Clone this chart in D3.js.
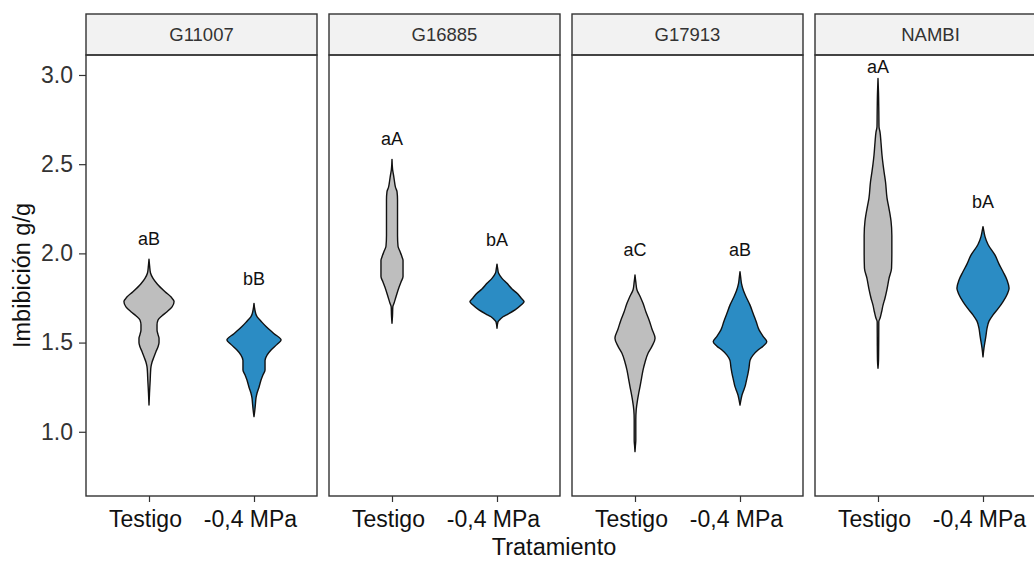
<!DOCTYPE html>
<html>
<head>
<meta charset="utf-8">
<script src="https://cdn.jsdelivr.net/npm/d3@7"></script>
<style>
body { margin: 0; background: #fff; }
text { font-family: "Liberation Sans", Arial, sans-serif; }
</style>
</head>
<body>
<script>
var genotypes = ["G11007", "G16885", "G17913", "NAMBI"];
var treatments = ["Testigo", "-0,4 MPa"];
var yTicks = [1.0, 1.5, 2.0, 2.5, 3.0];
var fills = ["#bebebe", "#2b8cc4"];

// letters per genotype [Testigo, -0,4 MPa] and the height they sit at
var letters = [["aB", "bB"], ["aA", "bA"], ["aC", "aB"], ["aA", "bA"]];
var letterY = [[2.085, 1.86], [2.645, 2.075], [2.02, 2.02], [3.047, 2.29]];

// violin profiles: [imbibicion g/g, relative density]
var g11007Testigo = [[1.967,0],[1.93,0.6],[1.89,1.5],[1.86,4],[1.83,8],[1.785,16],[1.755,22],[1.73,25],[1.70,23],
  [1.673,18],[1.65,13],[1.627,9],[1.60,8],[1.571,8],[1.545,9],[1.524,10],[1.50,10],[1.477,9],[1.45,7],[1.42,5],
  [1.39,3],[1.365,2],[1.33,1.5],[1.29,1.2],[1.25,0.8],[1.216,0.5],[1.15,0]];
var g11007Mpa = [[1.72,0],[1.68,1],[1.645,3],[1.62,7],[1.59,12],[1.55,20],[1.515,27],[1.49,23],[1.458,17],[1.43,13],
  [1.40,11],[1.37,11],[1.346,11],[1.32,9],[1.29,7],[1.25,5],[1.216,3],[1.19,2],[1.16,1.5],[1.12,0.8],[1.085,0]];
var g16885Testigo = [[2.527,0],[2.47,0.6],[2.44,1.5],[2.41,2.3],[2.37,3.5],[2.346,5],[2.30,5.5],[2.20,5.5],[2.10,5.5],
  [2.04,6],[2.01,8],[1.98,10],[1.96,11],[1.92,11],[1.87,11],[1.84,9],[1.81,7],[1.757,4],[1.72,2],[1.70,0.8],
  [1.65,0.5],[1.608,0]];
var g16885Mpa = [[1.94,0],[1.91,0.8],[1.89,1.5],[1.86,5],[1.832,10],[1.80,15],[1.776,20],[1.75,24],[1.73,27],[1.71,24],
  [1.683,18],[1.66,11],[1.645,6],[1.63,3],[1.617,1],[1.58,0]];
var g17913Testigo = [[1.879,0],[1.84,0.8],[1.795,2],[1.76,5],[1.72,8],[1.67,11],[1.627,14],[1.575,17],[1.524,20],
  [1.48,17],[1.44,13],[1.39,10],[1.346,8],[1.30,6.5],[1.253,5],[1.21,3.5],[1.178,2.5],[1.122,1.2],[1.066,0.8],
  [0.954,0.8],[0.92,0.4],[0.889,0]];
var g17913Mpa = [[1.897,0],[1.86,0.8],[1.83,1.5],[1.79,3.5],[1.757,6],[1.71,10],[1.664,13],[1.62,16],[1.571,19],
  [1.535,23],[1.505,26.7],[1.48,23],[1.458,18],[1.43,13],[1.40,10],[1.36,9],[1.328,8],[1.29,6.5],[1.253,5],
  [1.23,3.5],[1.206,2],[1.18,1],[1.15,0]];
var nambiTestigo = [[2.98,0],[2.90,0.5],[2.80,0.8],[2.71,1],[2.68,2],[2.62,3],[2.55,4],[2.50,5],[2.458,6],[2.40,7.5],
  [2.31,9],[2.25,11],[2.18,13],[2.10,13.8],[2.00,13.8],[1.917,13.5],[1.86,11],[1.80,9],[1.75,7],[1.71,5],[1.67,3.5],
  [1.636,2],[1.617,0.8],[1.50,0.7],[1.40,0.5],[1.356,0]];
var nambiMpa = [[2.15,0],[2.12,1],[2.094,2],[2.05,5],[1.99,12],[1.94,16],[1.897,20],[1.85,24],[1.804,26],[1.77,24],
  [1.73,20],[1.69,15],[1.655,10],[1.62,6],[1.58,4],[1.54,3],[1.505,2],[1.47,1],[1.42,0]];

var profiles = [[g11007Testigo, g11007Mpa], [g16885Testigo, g16885Mpa],
                [g17913Testigo, g17913Mpa], [nambiTestigo, nambiMpa]];

var width = 1034,
    height = 561,
    stripTop = 14,
    panelTop = 55,
    panelBottom = 496;

var svg = d3.select("body").append("svg")
    .attr("width", width)
    .attr("height", height);

var facet = d3.scaleBand()
    .domain(genotypes)
    .range([86, 1046])
    .paddingInner(12 / 243);

var x = d3.scalePoint()
    .domain(treatments)
    .range([0, facet.bandwidth()])
    .padding(0.6);

var y = d3.scaleLinear()
    .domain([0.64, 3.112])
    .range([panelBottom, panelTop]);

// density -> half width, the widest violin gets about a quarter of a step
var w = d3.scaleLinear()
    .domain([0, 27])
    .range([0, 0.258 * x.step()]);

var panels = svg.selectAll("g.panel")
    .data(genotypes)
  .enter().append("g")
    .attr("class", "panel")
    .attr("transform", function(d) { return "translate(" + facet(d) + ",0)"; });

// strips
panels.append("rect")
    .attr("x", 0)
    .attr("y", stripTop)
    .attr("width", facet.bandwidth())
    .attr("height", panelTop - stripTop)
    .attr("fill", "#f2f2f2")
    .attr("stroke", "#333")
    .attr("stroke-width", 1.4);

panels.append("text")
    .attr("x", facet.bandwidth() / 2)
    .attr("y", (stripTop + panelTop) / 2)
    .attr("dy", "0.35em")
    .attr("text-anchor", "middle")
    .attr("font-size", 18.5)
    .attr("fill", "#333")
    .text(function(d) { return d; });

// violins
panels.each(function(g, i) {
  var p = d3.select(this);
  treatments.forEach(function(t, j) {
    var cx = x(t);
    var area = d3.area()
        .curve(d3.curveMonotoneY)
        .y(function(d) { return y(d[0]); })
        .x0(function(d) { return cx - w(d[1]); })
        .x1(function(d) { return cx + w(d[1]); });
    p.append("path")
        .datum(profiles[i][j])
        .attr("d", area)
        .attr("fill", fills[j])
        .attr("stroke", "#111")
        .attr("stroke-width", 1.4)
        .attr("stroke-linejoin", "round");
    p.append("text")
        .attr("x", cx)
        .attr("y", y(letterY[i][j]))
        .attr("dy", "0.35em")
        .attr("text-anchor", "middle")
        .attr("font-size", 18)
        .attr("fill", "#111")
        .text(letters[i][j]);
  });
});

// panel borders
panels.append("rect")
    .attr("x", 0)
    .attr("y", panelTop)
    .attr("width", facet.bandwidth())
    .attr("height", panelBottom - panelTop)
    .attr("fill", "none")
    .attr("stroke", "#333")
    .attr("stroke-width", 1.4);

// x axes
panels.append("g")
    .attr("transform", "translate(0," + panelBottom + ")")
    .call(d3.axisBottom(x).tickSize(6).tickPadding(9))
    .call(function(g) {
      g.select(".domain").remove();
      g.selectAll(".tick line").attr("stroke", "#333").attr("stroke-width", 1.2);
      g.selectAll(".tick text").attr("fill", "#111").attr("font-size", 23).attr("dx", -4)
        .attr("font-family", "Liberation Sans, Arial, sans-serif");
    });

// y axis
svg.append("g")
    .attr("transform", "translate(" + facet(genotypes[0]) + ",0)")
    .call(d3.axisLeft(y).tickValues(yTicks).tickFormat(d3.format(".1f")).tickSize(7).tickPadding(6))
    .call(function(g) {
      g.select(".domain").remove();
      g.selectAll(".tick line").attr("stroke", "#333").attr("stroke-width", 1.2);
      g.selectAll(".tick text").attr("fill", "#333").attr("font-size", 23)
        .attr("font-family", "Liberation Sans, Arial, sans-serif");
    });

// axis titles
svg.append("text")
    .attr("x", 554)
    .attr("y", 555)
    .attr("text-anchor", "middle")
    .attr("font-size", 23.5)
    .attr("fill", "#111")
    .text("Tratamiento");

svg.append("text")
    .attr("transform", "translate(30," + (panelTop + panelBottom) / 2 + ") rotate(-90)")
    .attr("text-anchor", "middle")
    .attr("font-size", 23.5)
    .attr("fill", "#111")
    .text("Imbibición g/g");
</script>
</body>
</html>
